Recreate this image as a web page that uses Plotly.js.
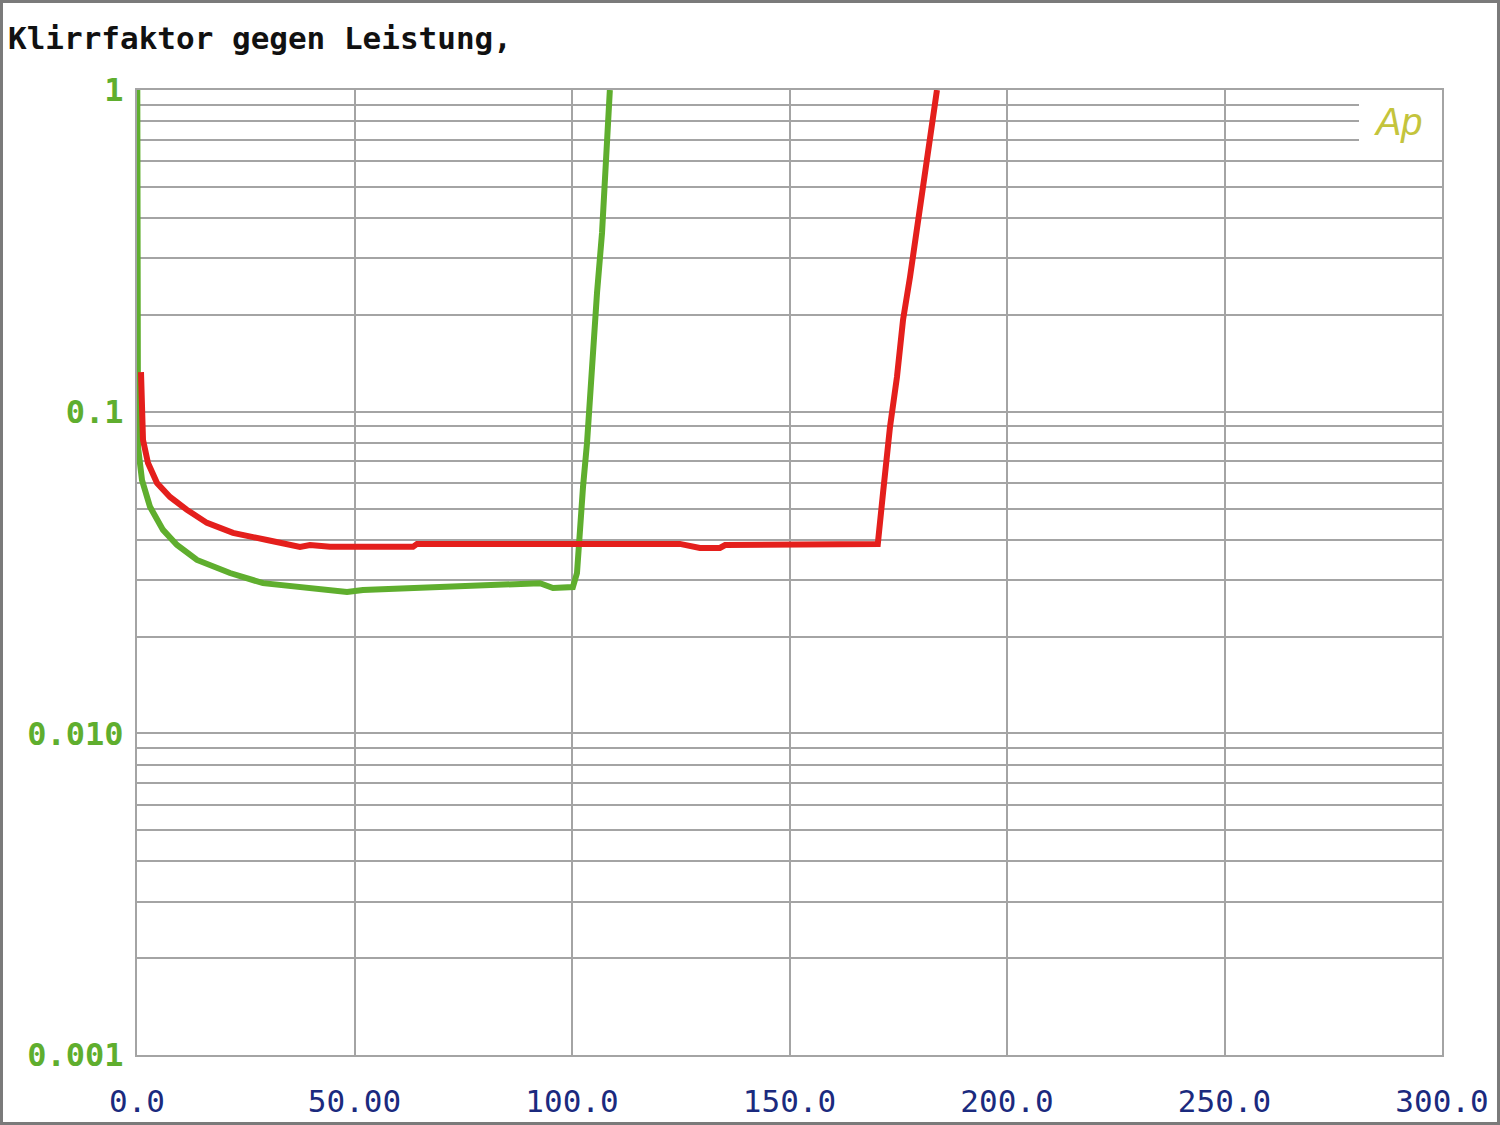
<!DOCTYPE html>
<html>
<head>
<meta charset="utf-8">
<script src="https://cdn.plot.ly/plotly-3.0.1.min.js"></script>
<style>
  html, body { margin: 0; padding: 0; background: #ffffff; }
  #chart { width: 1500px; height: 1125px; }
</style>
</head>
<body>
<div id="chart"></div>
<script>
// ---- data (x: power in W, y: THD in %) ----
const redX = [0.92, 1.08, 1.38, 2.53, 4.60, 7.59, 11.49, 16.09, 22.07, 29.89, 37.47, 39.77, 44.37, 63.45, 64.37, 113.3, 124.8, 129.4, 134.0, 135.2, 166.2, 170.3, 171.5, 173.1, 174.7, 176.1, 177.7, 179.3, 181.6, 183.9];
const redY = [0.1328, 0.1087, 0.0817, 0.0692, 0.0600, 0.0543, 0.0495, 0.0451, 0.0420, 0.0399, 0.0380, 0.0385, 0.0380, 0.0380, 0.0388, 0.0388, 0.0388, 0.0377, 0.0377, 0.0385, 0.0385, 0.0388, 0.0559, 0.0896, 0.128, 0.193, 0.262, 0.375, 0.606, 1.0];

const greenX = [0.07, 0.14, 0.23, 0.23, 1.15, 2.99, 5.98, 9.2, 13.79, 21.38, 28.97, 38.16, 48.28, 51.95, 65.06, 81.15, 92.64, 95.63, 100.2, 101.15, 101.84, 102.53, 103.45, 104.14, 104.83, 105.75, 106.9, 107.6, 108.28, 108.7];
const greenY = [1.0, 0.2225, 0.0922, 0.0777, 0.0613, 0.0506, 0.0429, 0.0385, 0.0346, 0.0315, 0.0293, 0.0283, 0.0275, 0.0279, 0.0283, 0.0289, 0.0293, 0.0283, 0.0285, 0.0315, 0.0438, 0.0583, 0.0799, 0.1143, 0.1635, 0.2339, 0.3593, 0.5641, 0.867, 1.0];

const xTickVals = [0, 50, 100, 150, 200, 250, 300];
const xTickText = ["0.0", "50.00", "100.0", "150.0", "200.0", "250.0", "300.0"];
const yTickVals = [1, 0.1, 0.01, 0.001];
const yTickText = ["1", "0.1", "0.010", "0.001"];
const yMinorVals = [0.9, 0.8, 0.7, 0.6, 0.5, 0.4, 0.3, 0.2,
                    0.09, 0.08, 0.07, 0.06, 0.05, 0.04, 0.03, 0.02,
                    0.009, 0.008, 0.007, 0.006, 0.005, 0.004, 0.003, 0.002];

const chartTitle = "Klirrfaktor gegen Leistung,";
const logoText = "Ap";

const gridColor = "#a4a4a4";

const traces = [
  { x: greenX, y: greenY, type: "scatter", mode: "lines",
    line: { color: "#5fae2e", width: 6 }, hoverinfo: "skip", showlegend: false },
  { x: redX, y: redY, type: "scatter", mode: "lines",
    line: { color: "#e41f1c", width: 6 }, hoverinfo: "skip", showlegend: false }
];

const layout = {
  width: 1500, height: 1125,
  margin: { l: 137, r: 58, t: 90, b: 70 },
  paper_bgcolor: "#ffffff",
  plot_bgcolor: "#ffffff",
  showlegend: false,
  title: {
    text: chartTitle,
    xref: "container", yref: "container",
    x: 8 / 1500, xanchor: "left",
    y: 1 - 38 / 1125, yanchor: "middle",
    font: { family: "DejaVu Sans Mono", size: 31, color: "#111111", weight: "bold" }
  },
  xaxis: {
    type: "linear", range: [0, 300],
    tickmode: "array", tickvals: xTickVals, ticktext: xTickText,
    ticks: "", ticklabelstandoff: 18,
    tickfont: { family: "DejaVu Sans Mono", size: 31, color: "#1b2a7e" },
    showgrid: true, gridcolor: gridColor, gridwidth: 2,
    zeroline: false,
    showline: true, linecolor: gridColor, linewidth: 2, mirror: true
  },
  yaxis: {
    type: "log", range: [-3, 0],
    tickmode: "array", tickvals: yTickVals, ticktext: yTickText,
    ticks: "", ticklabelstandoff: 5,
    tickfont: { family: "DejaVu Sans Mono", size: 32, color: "#5fae2e", weight: "bold" },
    showgrid: true, gridcolor: gridColor, gridwidth: 2,
    minor: { tickmode: "array", tickvals: yMinorVals, showgrid: true, gridcolor: gridColor, gridwidth: 2, ticks: "" },
    zeroline: false,
    showline: true, linecolor: gridColor, linewidth: 2, mirror: true
  },
  shapes: [
    // clears grid behind the logo
    { type: "rect", xref: "paper", yref: "paper", x0: 0.9364, x1: 1.0, y0: 0.9326, y1: 0.9948,
      fillcolor: "#ffffff", line: { width: 0 }, layer: "above" },
    // outer picture frame
    { type: "rect", xref: "paper", yref: "paper", x0: -0.10498, x1: 1.04444, y0: -0.07254, y1: 1.09326,
      fillcolor: "rgba(0,0,0,0)", line: { color: "#7a7a7a", width: 6 }, layer: "above" }
  ],
  annotations: [
    { text: "<i>" + logoText + "</i>", xref: "paper", yref: "paper", x: 0.9663, y: 0.9668,
      xanchor: "center", yanchor: "middle", showarrow: false,
      font: { family: "Liberation Sans", size: 38, color: "#c4c43c" } }
  ]
};

Plotly.newPlot("chart", traces, layout, { staticPlot: true, displayModeBar: false });
</script>
</body>
</html>
